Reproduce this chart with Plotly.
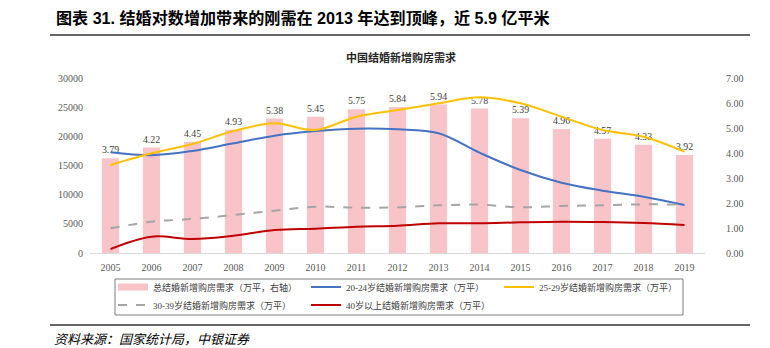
import plotly.graph_objects as go

years = [str(y) for y in range(2005, 2020)]
total_demand = [3.79, 4.22, 4.45, 4.93, 5.38, 5.45, 5.75, 5.84, 5.94, 5.78, 5.39, 4.96, 4.57, 4.33, 3.92]
age_20_24 = [17260, 16750, 17490, 18800, 20110, 20910, 21310, 21200, 20520, 17200, 14230, 12050, 10690, 9650, 8230]
age_25_29 = [15090, 17090, 18690, 20910, 22230, 21090, 23370, 24510, 25660, 26690, 25660, 23370, 21090, 19940, 17370]
age_30_39 = [4230, 5370, 5830, 6510, 7260, 7940, 7770, 7830, 8170, 8290, 7830, 8060, 8170, 8340, 8290]
age_40_plus = [690, 2800, 2400, 2970, 3940, 4170, 4510, 4680, 5090, 5090, 5260, 5370, 5310, 5140, 4800]

names = [
    "总结婚新增购房需求（万平，右轴）",
    "20-24岁结婚新增购房需求（万平）",
    "25-29岁结婚新增购房需求（万平）",
    "30-39岁结婚新增购房需求（万平）",
    "40岁以上结婚新增购房需求（万平）",
]

SERIF = "Liberation Serif, Noto Sans CJK SC, serif"
CJK = "Noto Sans CJK SC, sans-serif"
BAR_COLOR = "#F8C4C8"

fig = go.Figure()
fig.add_trace(go.Bar(
    x=years, y=total_demand, name=names[0], yaxis="y",
    marker=dict(color=BAR_COLOR, line=dict(width=0)),
    text=[f"{v:.2f}" for v in total_demand], textposition="outside",
    textfont=dict(family=SERIF, size=10, color="#404040"),
    cliponaxis=False, showlegend=False,
))
# legend entry for the bars, drawn as a wide pink swatch (single point -> no visible line on the plot)
fig.add_trace(go.Scatter(x=years[:1], y=total_demand[:1], name=names[0], yaxis="y", mode="lines",
                         line=dict(color=BAR_COLOR, width=7), legend="legend", hoverinfo="skip"))
fig.add_trace(go.Scatter(x=years, y=age_20_24, name=names[1], yaxis="y2", mode="lines",
                         line=dict(color="#4472C4", width=2, shape="spline"), legend="legend"))
fig.add_trace(go.Scatter(x=years, y=age_25_29, name=names[2], yaxis="y2", mode="lines",
                         line=dict(color="#FFC000", width=2, shape="spline"), legend="legend"))
fig.add_trace(go.Scatter(x=years, y=age_30_39, name=names[3], yaxis="y2", mode="lines",
                         line=dict(color="#A5A5A5", width=2, dash="dash", shape="spline"), legend="legend2"))
fig.add_trace(go.Scatter(x=years, y=age_40_plus, name=names[4], yaxis="y2", mode="lines",
                         line=dict(color="#C00000", width=2, shape="spline"), legend="legend2"))

L, R, T, B = 90, 65, 78, 95
W, H = 770, 348
PW, PH = W - L - R, H - T - B

def px(x):
    return (x - L) / PW

def py(y):
    return (H - B - y) / PH

tickfont = dict(family=SERIF, size=10, color="#595959")
legfont = dict(family=SERIF, size=9, color="#404040")

fig.update_layout(
    width=W, height=H,
    margin=dict(l=L, r=R, t=T, b=B, pad=0),
    paper_bgcolor="white", plot_bgcolor="white",
    bargap=0.58,
    showlegend=True,
    xaxis=dict(type="category", showgrid=False, showline=True, linecolor="#D9D9D9", linewidth=1,
               ticks="", tickfont=tickfont, ticklabelstandoff=5, zeroline=False, fixedrange=True),
    yaxis=dict(side="right", range=[0, 7], dtick=1, tickformat=".2f", showgrid=False, zeroline=False,
               showline=False, ticks="", tickfont=tickfont, ticklabelstandoff=20),
    yaxis2=dict(side="left", overlaying="y", range=[0, 30000], dtick=5000, tickformat="d", showgrid=False,
                zeroline=False, showline=False, ticks="", tickfont=tickfont, ticklabelstandoff=6),
    legend=dict(orientation="h", x=px(113), y=py(272.5), xanchor="left", yanchor="top",
                font=legfont, bgcolor="rgba(0,0,0,0)", borderwidth=0, itemwidth=30,
                traceorder="normal", entrywidth=148, entrywidthmode="pixels"),
    legend2=dict(orientation="h", x=px(113), y=py(290.5), xanchor="left", yanchor="top",
                 font=legfont, bgcolor="rgba(0,0,0,0)", borderwidth=0, itemwidth=30,
                 traceorder="normal", entrywidth=148, entrywidthmode="pixels"),
    font=dict(family=SERIF),
)

shapes = [
    dict(type="line", xref="paper", yref="paper", x0=px(50), x1=px(750), y0=py(35), y1=py(35),
         line=dict(color="#333333", width=1.3)),
    dict(type="line", xref="paper", yref="paper", x0=px(50), x1=px(750), y0=py(325), y1=py(325),
         line=dict(color="#333333", width=1.3)),
    dict(type="rect", xref="paper", yref="paper", x0=px(115), x1=px(683), y0=py(279), y1=py(315),
         line=dict(color="#7F7F7F", width=1), fillcolor="rgba(0,0,0,0)"),
]
fig.update_layout(shapes=shapes)

annotations = [
    dict(text="<b>图表 31. 结婚对数增加带来的刚需在 2013 年达到顶峰，近 5.9 亿平米</b>",
         xref="paper", yref="paper", x=px(54), y=py(18), xanchor="left", yanchor="middle",
         showarrow=False, font=dict(family="Liberation Sans, Noto Sans CJK SC, sans-serif", size=16.1, color="#000000")),
    dict(text="<b>中国结婚新增购房需求</b>", xref="paper", yref="paper", x=px(401), y=py(57),
         xanchor="center", yanchor="middle", showarrow=False,
         font=dict(family=CJK, size=11, color="#262626")),
    dict(text="<i>资料来源：国家统计局，中银证券</i>", xref="paper", yref="paper", x=px(52), y=py(338),
         xanchor="left", yanchor="middle", showarrow=False,
         font=dict(family=CJK, size=13, color="#000000")),
]
fig.update_layout(annotations=annotations)

fig.write_html("out.html")
